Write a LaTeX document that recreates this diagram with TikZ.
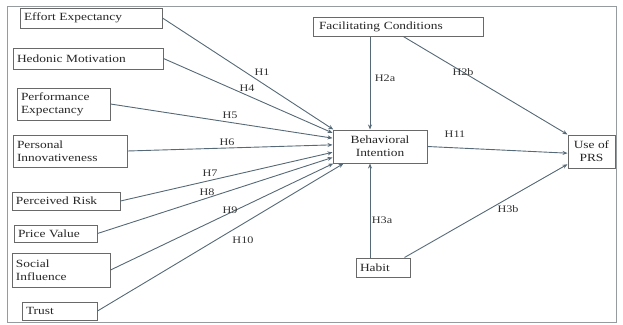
\documentclass[tikz,border=0pt]{standalone}
\usepackage{fontspec}
\setmainfont[FakeStretch=1.22]{Liberation Serif}
\usetikzlibrary{arrows.meta}
\definecolor{linec}{RGB}{85,105,118}
\definecolor{boxc}{RGB}{105,105,105}
\definecolor{framec}{RGB}{150,155,160}
\tikzset{
  box/.style={draw=boxc, line width=1pt, inner xsep=4pt, inner ysep=1pt, font=\rmfamily\fontsize{11}{13}\selectfont, text=black!85},
  lbox/.style={box, align=left},
  cbox/.style={box, align=center},
  conn/.style={draw=linec, line width=0.9pt, -{Stealth[length=5pt,width=4pt]}},
  hlab/.style={font=\rmfamily\fontsize{10}{12}\selectfont, text=black!80, inner sep=0.5pt}
}
\newcommand{\lb}[6]{% name, cx, cy, w, h, text
  \node[lbox, minimum width=#4pt, minimum height=#5pt, text width=#4pt-8pt] (#1) at (#2,#3) {#6};}
\begin{document}
\begin{tikzpicture}[x=1pt,y=-1pt]
\useasboundingbox (0,0) rectangle (623,324);
\draw[framec, line width=0.8pt] (7,6) rectangle (616,322);
\lb{EE}{91}{18}{142}{20}{Effort Expectancy}
\lb{HM}{88}{58.5}{150}{21}{Hedonic Motivation}
\lb{PE}{63.5}{104}{93}{32}{Performance\\Expectancy}
\lb{PI}{70}{151}{114}{32}{Personal\\Innovativeness}
\lb{PR}{66}{201}{108}{18}{Perceived Risk}
\lb{PV}{55.5}{233.5}{83}{17}{Price Value}
\lb{SI}{61}{270}{98}{34}{Social\\Influence}
\lb{TR}{59.5}{311}{75}{18}{Trust}
\node[lbox, minimum width=170pt, minimum height=19pt, text width=158pt, inner xsep=6pt] (FC) at (398,26.5) {Facilitating Conditions};
\node[cbox, minimum width=94pt, minimum height=33pt] (BI) at (380,146.5) {Behavioral\\Intention};
\node[cbox, minimum width=47pt, minimum height=33pt, inner xsep=2pt] (PRS) at (591.5,151.5) {Use of\\PRS};
\lb{HA}{383}{267.5}{54}{19}{Habit}
\draw[conn] (EE.east) -- (BI.160);
\draw[conn] (HM.east) -- (BI.164);
\draw[conn] (PE.east) -- (BI.170);
\draw[conn] (PI.east) -- (BI.178);
\draw[conn] (PR.east) -- (BI.187);
\draw[conn] (PV.east) -- (BI.193);
\draw[conn] (SI.east) -- (BI.200);
\draw[conn] (TR.east) -- (BI.205);
\draw[conn] ([xshift=-10pt]BI.north |- FC.south) -- ([xshift=-10pt]BI.north);
\draw[conn] (FC.-62) -- (PRS.north west);
\draw[conn] (BI.east) -- (PRS.184);
\draw[conn] ([xshift=-10pt]BI.south |- HA.north) -- ([xshift=-10pt]BI.south);
\draw[conn] ([xshift=-6pt]HA.north east) -- (PRS.208);
\node[hlab] (H1) at (262,72) {H1};
\node[hlab] (H4) at (247,88) {H4};
\node[hlab] (H5) at (230,115) {H5};
\node[hlab] (H6) at (227,142) {H6};
\node[hlab] (H7) at (210,173) {H7};
\node[hlab] (H8) at (207,192) {H8};
\node[hlab] (H9) at (230,210) {H9};
\node[hlab] (H10) at (243,240) {H10};
\node[hlab] (H2a) at (385,78) {H2a};
\node[hlab] (H2b) at (463,72) {H2b};
\node[hlab] (H11) at (455,134) {H11};
\node[hlab] (H3a) at (382,220) {H3a};
\node[hlab] (H3b) at (508,209) {H3b};
\end{tikzpicture}
\end{document}
